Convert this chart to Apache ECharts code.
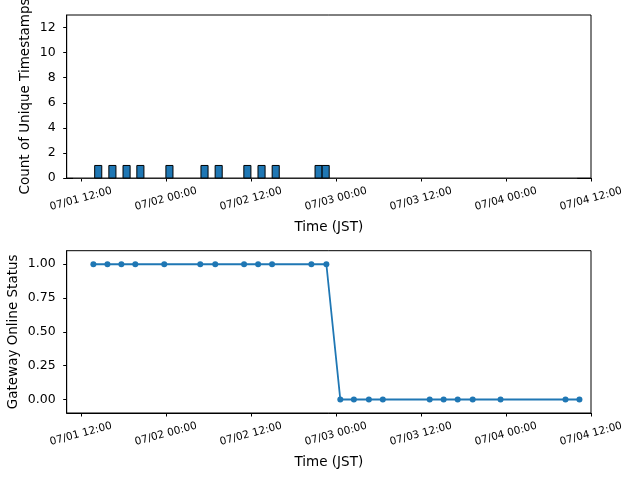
<!DOCTYPE html>
<html>
<head>
<meta charset="utf-8">
<script src="https://cdn.jsdelivr.net/npm/echarts@6/dist/echarts.min.js"></script>
<style>
  html, body { margin: 0; padding: 0; background: #fff; }
  #chart { width: 640px; height: 480px; }
</style>
</head>
<body>
<div id="chart"></div>
<script>
// times are hours counted from 07/01 00:00 (JST)
const xMin = 10
const xMax = 84
const xTicks = [12, 24, 36, 48, 60, 72, 84]

// top: histogram of unique timestamps (1h bins)
const histRange = [10.9, 82.05]
const histBinWidth = 1.0
const histBinCenters = [14.45, 16.45, 18.45, 20.4, 24.5, 29.45, 31.45, 35.5, 37.5, 39.5, 45.55, 46.55]
const histCounts = [1, 1, 1, 1, 1, 1, 1, 1, 1, 1, 1, 1]
const histYTicks = [0, 2, 4, 6, 8, 10, 12]

// bottom: gateway online status
const statusTimes = [
  '07/01 13:46', '07/01 15:45', '07/01 17:43', '07/01 19:41', '07/01 23:46',
  '07/02 04:51', '07/02 06:58', '07/02 11:02', '07/02 13:01', '07/02 14:59',
  '07/02 20:32', '07/02 22:39', '07/03 00:37', '07/03 02:32', '07/03 04:39',
  '07/03 06:37', '07/03 13:14', '07/03 15:12', '07/03 17:11', '07/03 19:18',
  '07/03 23:14', '07/04 08:24', '07/04 10:22'
]
const statusValues = [1, 1, 1, 1, 1, 1, 1, 1, 1, 1, 1, 1, 0, 0, 0, 0, 0, 0, 0, 0, 0, 0, 0]
const statusYTicks = [0, 0.25, 0.5, 0.75, 1]

const blue = '#1f77b4'
const font = 'DejaVu Sans'

function toHours (s) {
  const day = parseInt(s.slice(3, 5), 10)
  const hh = parseInt(s.slice(6, 8), 10)
  const mm = parseInt(s.slice(9, 11), 10)
  return (day - 1) * 24 + hh + mm / 60
}

function fmtTick (h) {
  const day = 1 + Math.floor(h / 24)
  const hh = h % 24
  return '07/0' + day + ' ' + String(hh).padStart(2, '0') + ':00'
}

function xAxisFor (gridIndex) {
  return {
    type: 'value',
    gridIndex: gridIndex,
    min: xMin,
    max: xMax,
    name: 'Time (JST)',
    nameLocation: 'middle',
    nameGap: 42,
    nameMoveOverlap: false,
    nameTextStyle: { color: '#000', fontSize: 13.5, fontFamily: font },
    axisLine: { onZero: false, lineStyle: { color: '#000', width: 1 } },
    axisTick: { customValues: xTicks, length: 3.5, lineStyle: { color: '#000' } },
    axisLabel: {
      customValues: xTicks,
      rotate: 15,
      align: 'center',
      verticalAlign: 'middle',
      margin: 21,
      color: '#000',
      fontSize: 10.5,
      fontFamily: font,
      formatter: fmtTick
    },
    splitLine: { show: false }
  }
}

const histData = histBinCenters.map((c, i) => [c - histBinWidth / 2, c + histBinWidth / 2, histCounts[i]])
const statusData = statusTimes.map((t, i) => [toHours(t), statusValues[i]])

const gridBase = {
  left: 66.7,
  right: 49,
  show: true,
  borderColor: '#000',
  borderWidth: 1,
  backgroundColor: 'transparent',
  containLabel: false,
  outerBoundsMode: 'none'
}

const chart = echarts.init(document.getElementById('chart'), null, { renderer: 'canvas' })
chart.setOption({
  animation: false,
  backgroundColor: '#fff',
  textStyle: { fontFamily: font },
  grid: [
    Object.assign({}, gridBase, { top: 15, height: 163 }),
    Object.assign({}, gridBase, { top: 250.7, height: 162.3 })
  ],
  xAxis: [xAxisFor(0), xAxisFor(1)],
  yAxis: [
    {
      type: 'value',
      gridIndex: 0,
      min: 0,
      max: 13,
      name: 'Count of Unique Timestamps',
      nameLocation: 'middle',
      nameGap: 34,
      nameMoveOverlap: false,
      nameTextStyle: { color: '#000', fontSize: 13.5, fontFamily: font },
      axisLine: { show: true, lineStyle: { color: '#000' } },
      axisTick: { show: true, customValues: histYTicks, length: 3.5, lineStyle: { color: '#000' } },
      axisLabel: { customValues: histYTicks, color: '#000', fontSize: 12.5, fontFamily: font, margin: 11 },
      splitLine: { show: false }
    },
    {
      type: 'value',
      gridIndex: 1,
      min: -0.1,
      max: 1.1,
      name: 'Gateway Online Status',
      nameLocation: 'middle',
      nameGap: 46,
      nameMoveOverlap: false,
      nameTextStyle: { color: '#000', fontSize: 13.5, fontFamily: font },
      axisLine: { show: true, onZero: false, lineStyle: { color: '#000' } },
      axisTick: { show: true, customValues: statusYTicks, length: 3.5, lineStyle: { color: '#000' } },
      axisLabel: {
        customValues: statusYTicks,
        color: '#000',
        fontSize: 12.5,
        fontFamily: font,
        margin: 11,
        formatter: (v) => v.toFixed(2)
      },
      splitLine: { show: false }
    }
  ],
  series: [
    {
      // empty bins drawn as a flat outline along zero
      type: 'line',
      xAxisIndex: 0,
      yAxisIndex: 0,
      data: [[histRange[0], 0], [histRange[1], 0]],
      symbol: 'none',
      lineStyle: { color: '#999', width: 1.2 },
      z: 1
    },
    {
      type: 'custom',
      xAxisIndex: 0,
      yAxisIndex: 0,
      data: histData,
      encode: { x: [0, 1], y: 2 },
      renderItem: (params, api) => {
        const p0 = api.coord([api.value(0), api.value(2)])
        const p1 = api.coord([api.value(1), 0])
        return {
          type: 'rect',
          shape: { x: p0[0], y: p0[1], width: p1[0] - p0[0], height: p1[1] - p0[1] },
          style: { fill: blue, stroke: '#000', lineWidth: 1 }
        }
      },
      z: 2
    },
    {
      type: 'line',
      xAxisIndex: 1,
      yAxisIndex: 1,
      data: statusData,
      symbol: 'circle',
      symbolSize: 6,
      itemStyle: { color: blue },
      lineStyle: { color: blue, width: 1.8 }
    }
  ]
})
</script>
</body>
</html>
